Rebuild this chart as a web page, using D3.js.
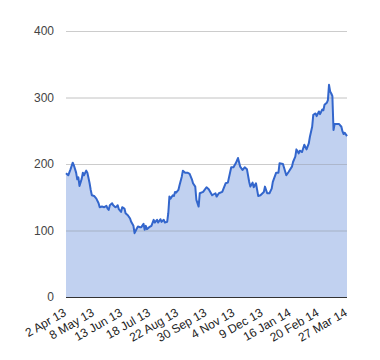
<!DOCTYPE html>
<html>
<head>
<meta charset="utf-8">
<script src="https://cdn.jsdelivr.net/npm/d3@7"></script>
<style>
  html, body { margin: 0; padding: 0; background: #fff; }
  svg { display: block; font-family: Arial, "Liberation Sans", sans-serif; }
</style>
</head>
<body>
<svg id="chart" width="380" height="360"></svg>
<script>
// Trading-day index (0 = 2 Apr 13) and value
const dayIndex = [0,2,4,6,7,9,10,11,12,14,15,16,18,19,21,22,23,25,27,29,30,32,34,36,37,38,39,41,42,44,45,46,47,49,50,52,53,55,57,58,60,61,63,64,66,67,69,70,71,72,74,76,78,79,81,82,84,85,87,88,90,91,92,93,95,96,97,98,100,101,103,104,106,108,110,112,113,115,116,118,119,122,125,127,130,133,134,136,139,142,144,147,149,151,153,155,157,159,161,163,164,166,167,169,171,173,176,177,179,181,183,184,187,189,190,193,196,198,201,202,204,205,207,208,210,212,214,216,217,219,220,222,223,225,226,228,229,230,232,233,234,235,236,237,238,239,241,243,245,246,247,248,250];
const values   = [186,183,192,202,198,187,177,180,167,178,187,183,190,187,171,161,153,152,148,141,135,136,135,137,133,131,138,141,138,135,136,138,132,128,135,133,126,123,118,113,107,96,103,106,105,105,110,101,107,102,105,107,116,112,116,112,117,113,116,112,113,126,151,148,153,152,158,157,161,168,181,190,187,187,185,177,171,166,146,136,156,158,165,162,153,156,151,156,158,171,172,195,195,201,209,196,191,195,192,173,166,172,165,171,152,153,158,166,156,156,163,173,187,187,201,200,183,188,196,203,211,222,216,220,218,229,222,231,241,256,274,276,272,279,275,282,281,289,292,296,319,309,306,302,251,260,260,260,256,249,245,247,242];
const tickIndex  = [0,25,50,75,100,125,150,175,200,225,250];
const tickLabels = ["2 Apr 13","8 May 13","13 Jun 13","18 Jul 13","22 Aug 13","30 Sep 13","4 Nov 13","9 Dec 13","16 Jan 14","20 Feb 14","27 Mar 14"];
const yTicks = [0,100,200,300,400];

const data = dayIndex.map((d, i) => ({ x: d, y: values[i] }));

const svg = d3.select("#chart");
const plotL = 66, plotR = 347, plotT = 31, plotB = 297;

const x = d3.scaleLinear().domain([0, 250]).range([plotL, plotR]);
const y = d3.scaleLinear().domain([0, 400]).range([plotB, plotT]);

// gridlines
svg.append("g").selectAll("line").data(yTicks.filter(t => t !== 0)).join("line")
  .attr("x1", plotL).attr("x2", plotR)
  .attr("y1", d => y(d) + 0.5).attr("y2", d => y(d) + 0.5)
  .attr("stroke", "#cccccc").attr("stroke-width", 1);

// area
const area = d3.area().x(d => x(d.x)).y0(y(0)).y1(d => y(d.y));
svg.append("path").datum(data).attr("d", area)
  .attr("fill", "#3366cc").attr("fill-opacity", 0.3);

// gridlines over area (darker look inside area)
svg.append("g").selectAll("line").data(yTicks.filter(t => t !== 0)).join("line")
  .attr("x1", plotL).attr("x2", plotR)
  .attr("y1", d => y(d) + 0.5).attr("y2", d => y(d) + 0.5)
  .attr("stroke", "#cccccc").attr("stroke-width", 1).attr("stroke-opacity", 0.35);

// line
const line = d3.line().x(d => x(d.x)).y(d => y(d.y));
svg.append("path").datum(data).attr("d", line)
  .attr("fill", "none").attr("stroke", "#3366cc").attr("stroke-width", 2)
  .attr("stroke-linejoin", "round");

// baseline
svg.append("line").attr("x1", plotL).attr("x2", plotR)
  .attr("y1", y(0) + 0.5).attr("y2", y(0) + 0.5)
  .attr("stroke", "#333333").attr("stroke-width", 1);

// y labels
svg.append("g").selectAll("text").data(yTicks).join("text")
  .attr("x", 54).attr("y", d => y(d))
  .attr("dy", "0.35em")
  .attr("text-anchor", "end")
  .attr("font-size", 12).attr("fill", "#444444")
  .text(d => d);

// x labels (slanted)
svg.append("g").selectAll("text").data(tickIndex).join("text")
  .attr("transform", d => `translate(${x(d) + 1},${plotB + 18}) rotate(-30)`)
  .attr("text-anchor", "end")
  .attr("font-size", 12).attr("fill", "#222222")
  .text((d, i) => tickLabels[i]);
</script>
</body>
</html>
